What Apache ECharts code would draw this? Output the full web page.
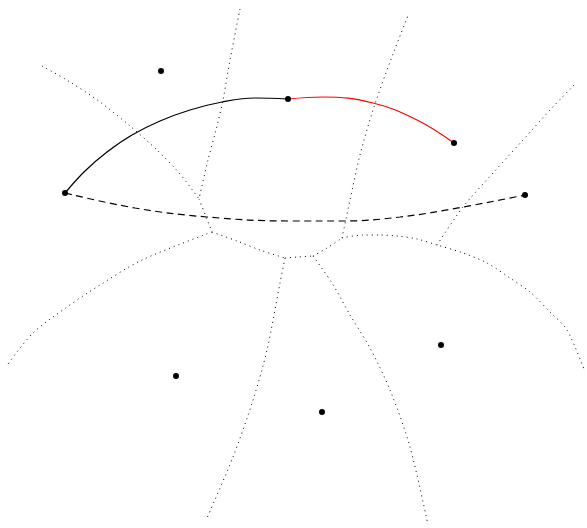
<!DOCTYPE html>
<html>
<head>
<meta charset="utf-8">
<script src="https://cdn.jsdelivr.net/npm/echarts@6/dist/echarts.min.js"></script>
<style>
  html, body { margin: 0; padding: 0; background: #fff; }
  #chart { width: 587px; height: 528px; }
</style>
</head>
<body>
<div id="chart"></div>
<script>
// sites (black dots), in plot units (x right, y down)
var sites = [
    [161, 71], [288, 99], [454, 143], [65, 193],
    [525, 195], [176, 376], [441, 345], [322, 412]
];

// arcs between sites
var arcSolid = [[65, 193], [85, 171], [107, 152], [132, 135], [160, 121], [190, 110], [222, 102], [255, 98], [288, 99]];
var arcRed = [[288, 99], [323, 97], [373, 103], [417, 120], [454, 143]];
var arcDashed = [[65, 193], [135, 208], [207, 217], [290, 221], [343, 221], [400, 217], [463, 207], [525, 195]];

// cell edges (dotted)
var edgeA = [[42, 66], [70, 82], [100, 102], [130, 126], [157, 150], [180, 174], [199, 199]];
var edgeB = [[240, 9], [230, 60], [223, 100], [216, 130], [208, 160], [199, 199]];
var edgeC = [[199, 199], [212, 232]];
var edgeD = [[212, 232], [142, 260], [100, 285], [67, 307], [33, 333], [8, 364]];
var edgeE = [[212, 232], [237, 241], [260, 250], [285, 258]];
var edgeF = [[285, 258], [298, 257], [313, 256]];
var edgeG = [[285, 258], [280, 283], [267, 350], [253, 400], [233, 457], [207, 518]];
var edgeH = [[313, 256], [332, 283], [350, 315], [370, 348], [390, 390], [410, 447], [428, 525]];
var edgeI = [[313, 256], [327, 248], [342, 238]];
var edgeJ = [[342, 238], [350, 200], [360, 155], [373, 110], [390, 62], [409, 13]];
var edgeK = [[342, 238], [363, 235], [380, 235], [397, 236], [417, 239], [437, 245], [463, 253],
    [487, 263], [510, 278], [530, 292], [550, 312], [567, 330], [585, 372]];
var edgeL = [[437, 245], [463, 207], [493, 173], [523, 140], [550, 110], [577, 82]];

var edges = [edgeA, edgeB, edgeC, edgeD, edgeE, edgeF, edgeG, edgeH, edgeI, edgeJ, edgeK, edgeL];

var chart = echarts.init(document.getElementById('chart'));

var series = [];
edges.forEach(function (e) {
    series.push({
        type: 'line',
        data: e,
        smooth: 0.3,
        showSymbol: false,
        silent: true,
        z: 1,
        lineStyle: { color: '#000', width: 1, type: [1, 4] }
    });
});

function arc(data, color, dash) {
    return {
        type: 'line', data: data, smooth: 0.4,
        showSymbol: false, z: 2,
        lineStyle: { color: color, width: 1.2, type: dash || 'solid' }
    };
}
series.push(arc(arcDashed, '#000', [7, 4.5]));
series.push(arc(arcSolid, '#000'));
series.push(arc(arcRed, '#ff0000'));
series.push({
    type: 'scatter', data: sites, symbolSize: 6, z: 3,
    itemStyle: { color: '#000', opacity: 1 }
});

var options = {
    animation: false,
    backgroundColor: '#fff',
    grid: { left: 0, right: 0, top: 0, bottom: 0 },
    xAxis: { type: 'value', min: 0, max: 587, show: false },
    yAxis: { type: 'value', min: 0, max: 528, inverse: true, show: false },
    series: series
};
chart.setOption(options);
</script>
</body>
</html>
